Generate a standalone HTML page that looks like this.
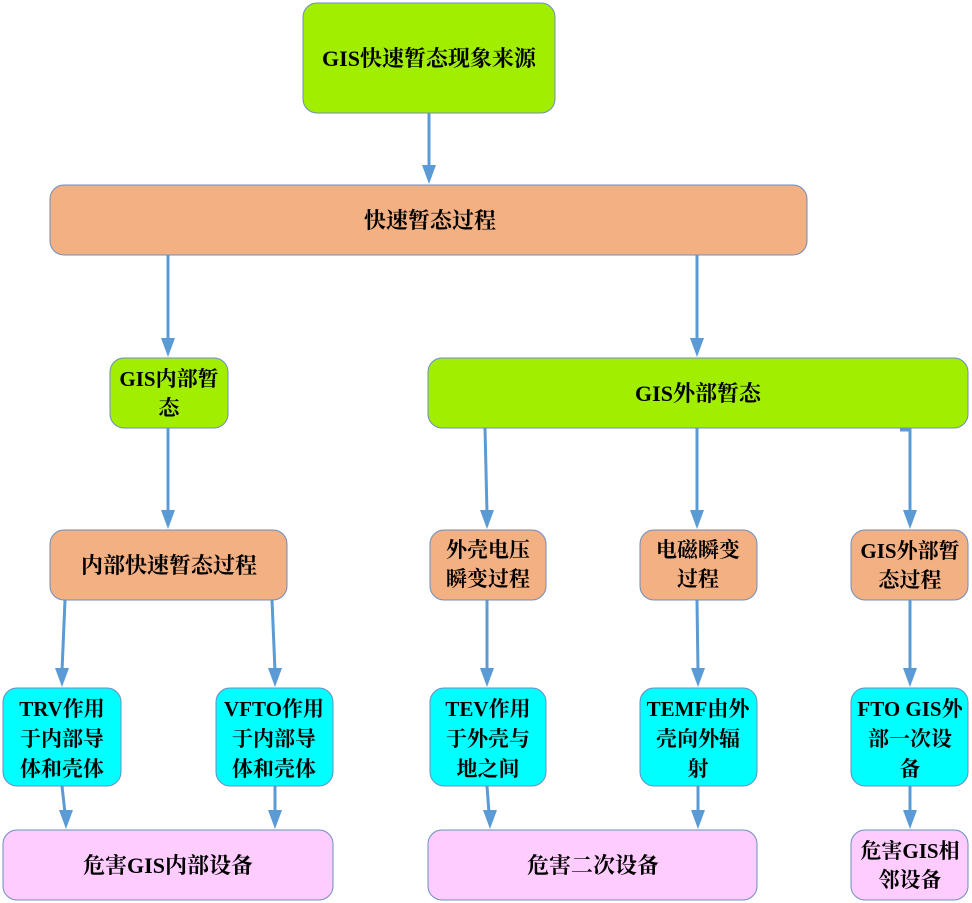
<!DOCTYPE html>
<html><head><meta charset="utf-8"><style>
html,body{margin:0;padding:0;background:#fff;}
svg{display:block;}
text{font-family:"Liberation Serif","Noto Serif CJK SC",serif;font-weight:bold;font-size:21px;fill:#000;text-anchor:middle;}
.s{font-size:22px;}
</style></head><body>
<svg width="972" height="903" viewBox="0 0 972 903" xmlns="http://www.w3.org/2000/svg">
<g stroke="#5b9bd5" stroke-width="3" fill="none">
<path d="M429,113 L429,168"/>
<path d="M168,255 L168,341"/>
<path d="M697,255 L697,341"/>
<path d="M168,428 L168,513"/>
<path d="M485,428 L487,513"/>
<path d="M697,428 L697,513"/>
<path d="M900,430 L910,430 L910,513"/>
<path d="M65,600 L62,671"/>
<path d="M272,600 L275,671"/>
<path d="M487,600 L487,671"/>
<path d="M697,600 L698,671"/>
<path d="M910,600 L910,671"/>
<path d="M62,786 L65,813"/>
<path d="M275,786 L275,813"/>
<path d="M487,786 L489,813"/>
<path d="M698,786 L698,813"/>
<path d="M910,786 L910,813"/>
</g>
<g fill="#5b9bd5">
<polygon points="422,165 436,165 429,184"/>
<polygon points="161,338 175,338 168,357"/>
<polygon points="690,338 704,338 697,357"/>
<polygon points="161,510 175,510 168,529"/>
<polygon points="480,510 494,510 487,529"/>
<polygon points="690,510 704,510 697,529"/>
<polygon points="903,510 917,510 910,529"/>
<polygon points="55,668 69,668 62,687"/>
<polygon points="268,668 282,668 275,687"/>
<polygon points="480,668 494,668 487,687"/>
<polygon points="691,668 705,668 698,687"/>
<polygon points="903,668 917,668 910,687"/>
<polygon points="59,810 73,810 66,829"/>
<polygon points="268,810 282,810 275,829"/>
<polygon points="483,810 497,810 490,829"/>
<polygon points="691,810 705,810 698,829"/>
<polygon points="903,810 917,810 910,829"/>
</g>
<g stroke="#6c8ebf" stroke-width="1">
<rect x="303" y="3" width="252" height="110" rx="14" fill="#a2ee00"/>
<rect x="50" y="185" width="757" height="70" rx="14" fill="#f3b083"/>
<rect x="110" y="358" width="118" height="70" rx="14" fill="#a2ee00"/>
<rect x="428" y="358" width="540" height="70" rx="14" fill="#a2ee00"/>
<rect x="50" y="530" width="237" height="70" rx="14" fill="#f3b083"/>
<rect x="430" y="530" width="116" height="70" rx="14" fill="#f3b083"/>
<rect x="640" y="530" width="117" height="70" rx="14" fill="#f3b083"/>
<rect x="851" y="530" width="117" height="70" rx="14" fill="#f3b083"/>
<rect x="3" y="688" width="118" height="98" rx="14" fill="#00ffff"/>
<rect x="216" y="688" width="117" height="98" rx="14" fill="#00ffff"/>
<rect x="430" y="688" width="116" height="98" rx="14" fill="#00ffff"/>
<rect x="640" y="688" width="117" height="98" rx="14" fill="#00ffff"/>
<rect x="851" y="688" width="117" height="98" rx="14" fill="#00ffff"/>
<rect x="3" y="830" width="330" height="70" rx="14" fill="#ffccff"/>
<rect x="428" y="830" width="329" height="70" rx="14" fill="#ffccff"/>
<rect x="851" y="830" width="117" height="70" rx="14" fill="#ffccff"/>
</g>
<text class="s" x="429" y="66">GIS快速暂态现象来源</text>
<text class="s" x="430" y="228">快速暂态过程</text>
<text x="169" y="386">GIS内部暂</text>
<text x="169" y="415">态</text>
<text class="s" x="698" y="401">GIS外部暂态</text>
<text class="s" x="169" y="573">内部快速暂态过程</text>
<text x="488" y="557">外壳电压</text>
<text x="488" y="586">瞬变过程</text>
<text x="698" y="557">电磁瞬变</text>
<text x="698" y="586">过程</text>
<text x="910" y="558">GIS外部暂</text>
<text x="910" y="587">态过程</text>
<text x="62" y="716">TRV作用</text>
<text x="62" y="746">于内部导</text>
<text x="62" y="776">体和壳体</text>
<text x="274" y="716">VFTO作用</text>
<text x="274" y="746">于内部导</text>
<text x="274" y="776">体和壳体</text>
<text x="488" y="716">TEV作用</text>
<text x="488" y="746">于外壳与</text>
<text x="488" y="776">地之间</text>
<text x="698" y="716">TEMF由外</text>
<text x="698" y="746">壳向外辐</text>
<text x="698" y="776">射</text>
<text x="910" y="716">FTO GIS外</text>
<text x="910" y="746">部一次设</text>
<text x="910" y="776">备</text>
<text class="s" x="168" y="873">危害GIS内部设备</text>
<text class="s" x="593" y="873">危害二次设备</text>
<text x="910" y="858">危害GIS相</text>
<text x="910" y="887">邻设备</text>
</svg>
</body></html>
